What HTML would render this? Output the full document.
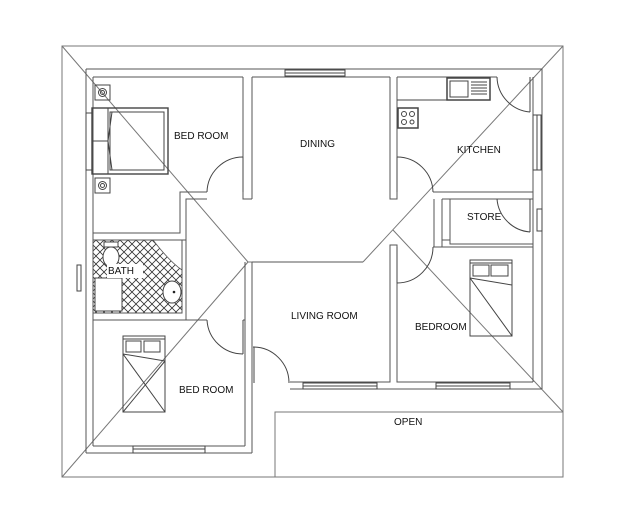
<!DOCTYPE html>
<html><head><meta charset="utf-8"><style>
html,body{margin:0;padding:0;background:#fff;}
svg{display:block;}
text{font-family:"Liberation Sans",sans-serif;font-size:10px;fill:#111;}
</style></head><body>
<svg width="625" height="531" viewBox="0 0 625 531" xmlns="http://www.w3.org/2000/svg">
<defs>
<pattern id="hatch" width="8" height="8" patternUnits="userSpaceOnUse">
<path d="M0 0L8 8M8 0L0 8" stroke="#333" stroke-width="0.8"/>
</pattern>
</defs>
<rect width="625" height="531" fill="#fff"/>
<g fill="none" stroke="#777" stroke-width="1">
<rect x="62" y="46" width="501" height="431"/>
<line x1="62" y1="46" x2="248" y2="262"/>
<line x1="248" y1="262" x2="363" y2="262"/>
<line x1="363" y1="262" x2="563" y2="46"/>
<line x1="393" y1="230" x2="563" y2="412"/>
<line x1="248" y1="262" x2="62" y2="477"/>
<rect x="275" y="412" width="288" height="65"/>
</g>
<g fill="none" stroke="#555" stroke-width="1">
<path d="M86 69 H542 V389"/>
<path d="M93 77 H243"/>
<path d="M252 77 H390"/>
<path d="M397 77 H497"/>
<line x1="533" y1="77" x2="533" y2="382"/>
<line x1="86" y1="69" x2="86" y2="453"/>
<line x1="93" y1="77" x2="93" y2="446"/>
<path d="M86 453 H252"/>
<path d="M93 446 H245"/>
<path d="M93 233 H180 V192 H207"/>
<path d="M186 240 V199 H207"/>
<path d="M243 77 V157 M252 77 V199"/>
<path d="M243 192 V199 H252"/>
<path d="M390 77 V199 H397 V77"/>
<path d="M433 192 H533 M442 199 H533"/>
<path d="M434 199 V247 M442 199 V247"/>
<rect x="450" y="199" width="83" height="45"/>
<path d="M433 247 H533 M442 240 H450"/>
<path d="M93 240 H186 V320"/>
<path d="M182 240 V313 H93"/>
<path d="M93 320 H207 M243 320 H245 V446"/>
<line x1="252" y1="262" x2="252" y2="453"/>
<line x1="245" y1="262" x2="245" y2="320"/>
<path d="M252 262 H363"/>
<path d="M290 382 H390 V245 H397 V382 H533"/>
<path d="M290 389 H542"/>
</g>
<path d="M93 240 H153 Q170 262 182 270 V313 H93 Z" fill="url(#hatch)" stroke="#555" stroke-width="0.8"/>
<rect x="95" y="278" width="27" height="33" fill="#fff" stroke="#444" stroke-width="1"/>
<ellipse cx="111" cy="257" rx="8" ry="10" fill="#fff" stroke="#444"/>
<rect x="104" y="242" width="14" height="5" fill="#fff" stroke="#444"/>
<ellipse cx="172" cy="292" rx="9" ry="11" fill="#fff" stroke="#444"/>
<circle cx="174" cy="292" r="1.3" fill="#222"/>
<rect x="107" y="264" width="36" height="14" fill="#fff"/>
<text x="108" y="274">BATH</text>
<g fill="none" stroke="#444" stroke-width="1">
<path d="M207 192 A36 36 0 0 1 243 157"/><line x1="243" y1="157" x2="243" y2="192"/>
<path d="M397 157 A36 36 0 0 1 433 192"/><line x1="397" y1="157" x2="397" y2="192"/>
<path d="M497 77 A36 36 0 0 0 530 112"/><line x1="530" y1="77" x2="530" y2="112"/>
<path d="M497 199 A36 36 0 0 0 530 232"/><line x1="530" y1="199" x2="530" y2="232"/>
<path d="M433 247 A36 36 0 0 1 397 283"/><line x1="397" y1="247" x2="397" y2="283"/>
<path d="M207 320 A36 36 0 0 0 243 354"/><line x1="243" y1="320" x2="243" y2="354"/>
<path d="M253 347 A36 36 0 0 1 289 383"/><line x1="254" y1="347" x2="254" y2="383"/>
<rect x="285" y="70" width="60" height="6"/><line x1="285" y1="73" x2="345" y2="73"/>
<rect x="533" y="115" width="8" height="55"/><line x1="537" y1="115" x2="537" y2="170"/>
<rect x="537" y="209" width="5" height="22"/>
<rect x="303" y="383" width="74" height="6"/><line x1="303" y1="386" x2="377" y2="386"/>
<rect x="436" y="383" width="74" height="6"/><line x1="436" y1="386" x2="510" y2="386"/>
<rect x="133" y="446" width="72" height="7"/><line x1="133" y1="449" x2="205" y2="449"/>
<rect x="86" y="113" width="6" height="57"/>
<rect x="77" y="265" width="4" height="26"/>
<path d="M397 100 H490 V77"/>
<rect x="447" y="78" width="43" height="22" stroke-width="1.5"/>
<rect x="450" y="81" width="18" height="16"/>
<path d="M471 82 H487 M471 85 H487 M471 88 H487 M471 91 H487 M471 94 H487"/>
<rect x="398" y="108" width="20" height="20" stroke-width="1.5"/>
<circle cx="404" cy="114" r="2.5"/><circle cx="412" cy="114" r="2.5"/>
<circle cx="404" cy="122" r="2.5"/><circle cx="412" cy="122" r="2"/>
<rect x="92" y="108" width="76" height="66" stroke-width="1.4"/>
<rect x="110" y="112" width="54" height="58"/>
<path d="M92 141 H108 M108 108 V174 M108 141 L112 112 M108 141 L112 170"/>
<rect x="95" y="85" width="15" height="15"/><circle cx="102.5" cy="92.5" r="4"/><circle cx="102.5" cy="92.5" r="2"/>
<rect x="95" y="178" width="15" height="15"/><circle cx="102.5" cy="185.5" r="4"/><circle cx="102.5" cy="185.5" r="2"/>
<rect x="123" y="336" width="42" height="76"/>
<path d="M123 339 H165 M126 341 H141 V352 H126 Z M144 341 H160 V352 H144 Z M123 354 L165 361 M123 354 L165 412 M165 361 L123 412"/>
<rect x="470" y="260" width="42" height="76"/>
<path d="M470 263 H512 M473 265 H489 V276 H473 Z M491 265 H508 V276 H491 Z M470 278 L512 285 M470 278 L512 336"/>
</g>
<text x="174" y="139">BED ROOM</text>
<text x="300" y="147">DINING</text>
<text x="457" y="153">KITCHEN</text>
<text x="467" y="220">STORE</text>
<text x="291" y="319">LIVING ROOM</text>
<text x="415" y="330">BEDROOM</text>
<text x="179" y="393">BED ROOM</text>
<text x="394" y="425">OPEN</text>
</svg>
</body></html>
